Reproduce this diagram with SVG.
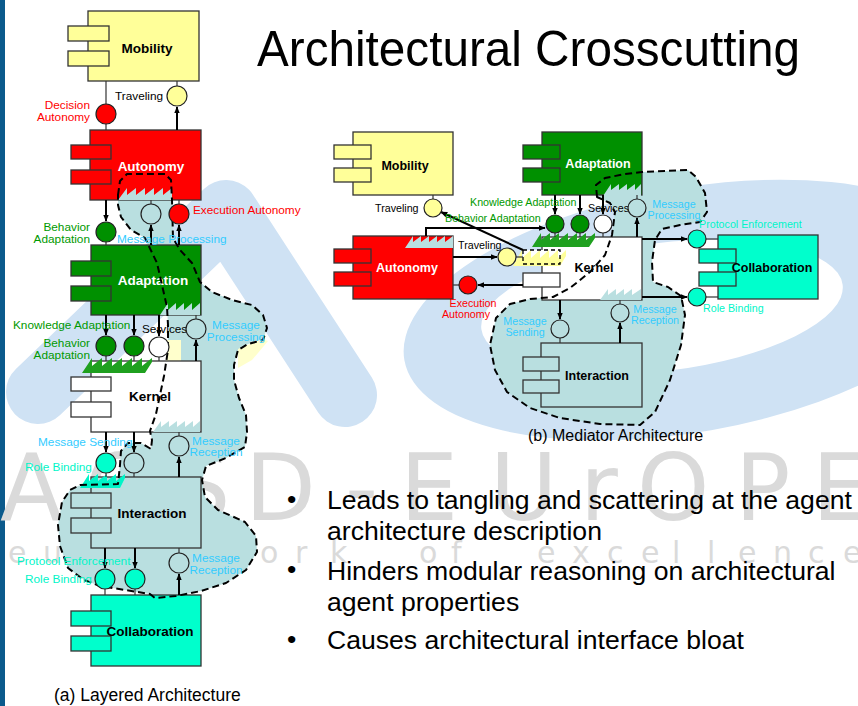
<svg xmlns="http://www.w3.org/2000/svg" width="858" height="706" viewBox="0 0 858 706">
<defs>
<style>
.bx{stroke:#333;stroke-width:1.3}
.yel{fill:#ffff99}.red{fill:#ff0000}.grn{fill:#009000}.wht{fill:#fff}.tea{fill:#b9dfe0}.cya{fill:#00ffcc}
.t{font-family:"Liberation Sans",Arial,Helvetica,sans-serif}
.s1{font-size:11.8px}.s2{font-size:10.7px}
.nm1{font-size:13.5px;font-weight:bold;text-anchor:middle}
.nm2{font-size:12.5px;font-weight:bold;text-anchor:middle}
.k{fill:#000}.w{fill:#fff}.cr{fill:#ff0000}.cg{fill:#009900}.cb{fill:#33ccff}.cc{fill:#00f5c8}
.mid{text-anchor:middle}.end{text-anchor:end}
.ln{stroke:#333;stroke-width:1.2;fill:none}
.ar{stroke:#000;stroke-width:2;fill:none;marker-end:url(#ah)}
.ifc{stroke:#222;stroke-width:1.2}
.cloud{fill:#b9dfe0}
.dash{fill:none;stroke:#000;stroke-width:2;stroke-dasharray:7 4;stroke-linejoin:round}
.wm{fill:#cfe2f4}
.wg{fill:#dadada;font-family:"DejaVu Sans","Liberation Sans",sans-serif}
.bul{font-size:26.6px;fill:#000}
</style>
<marker id="ah" viewBox="0 0 10 10" refX="9" refY="5" markerWidth="3.5" markerHeight="3.5" orient="auto">
<path d="M0,1 L10,5 L0,9 z" fill="#000"/>
</marker>
</defs>

<rect width="858" height="706" fill="#fff"/>
<!-- page edge bar -->
<rect x="0" y="0" width="5" height="706" fill="#0b5a8c"/>

<!-- background logo watermark -->
<g id="watermark">
<polyline points="38,392 226,212 345,395" fill="none" stroke="#cfe2f4" stroke-width="64" stroke-linecap="round" stroke-linejoin="round"/>
<ellipse class="wm" cx="690" cy="310" rx="290" ry="122" transform="rotate(-10 690 310)"/>
<ellipse cx="662" cy="307" rx="182" ry="64" fill="#fff" transform="rotate(-7 662 307)"/>
<text class="wg" font-size="92" x="0 85 172 245 345 400 490 580 637 735 812" y="520">AOSD-EUrOPE</text>
<text class="wg" font-size="30" x="8 43 80 120 155 190 225 260 295 330 375 419 451 495 537 572 607 641 672 707 738 773 808 843" y="563">eu network of excellence</text>
</g>

<!-- title -->
<text class="t" x="257" y="66" font-size="50" textLength="543" lengthAdjust="spacingAndGlyphs">Architectural Crosscutting</text>

<!-- ===== (a) layered architecture ===== -->
<g id="a-concern-fill">
<polygon class="cloud" points="118,195 120,181 127,174 165,174 171,180 172,200 173,238 180,250 192,263 200,282 212,292 232,300 252,305 263,315 267,328 263,340 248,344 238,350 234,365 234,380 239,398 246,415 247,432 245,447 226,458 206,466 202,480 205,497 218,510 245,522 256,536 257,552 246,570 226,583 201,591 176,596 155,598 150,594 125,590 100,586 84,580 68,568 60,546 58,525 62,502 70,490 80,485 118,484 120,465 121,451 128,443 141,443 151,449 152,440 150,431 156,414 160,395 164,376 168,350 168,325 167,307 157,263 145,238 131,230 121,217 118,205"/>
<polygon points="166,340 181,340 181,361 166,361" fill="#ffffcc"/>
<polygon points="238,349 262,339 268,341 252,360 238,368" fill="#ffffcc"/>
</g>

<g id="a-mobility">
<rect class="bx yel" x="88" y="11" width="111" height="70"/>
<rect class="bx yel" x="68" y="26" width="41" height="15"/>
<rect class="bx yel" x="68" y="51" width="41" height="15"/>
<text class="t nm1 k" x="147" y="53">Mobility</text>
</g>
<g id="a-autonomy">
<rect class="bx red" x="90" y="130" width="111" height="70"/>
<rect class="bx red" x="71" y="145" width="40" height="14"/>
<rect class="bx red" x="71" y="170" width="40" height="14"/>
<text class="t nm1 w" x="151" y="171">Autonomy</text>
</g>
<g id="a-adaptation">
<rect class="bx grn" x="91" y="245" width="110" height="70"/>
<rect class="bx grn" x="71" y="261" width="40" height="15"/>
<rect class="bx grn" x="71" y="286" width="40" height="15"/>
<text class="t nm1 w" x="153" y="285">Adaptation</text>
</g>
<g id="a-kernel">
<rect class="bx wht" x="91" y="361" width="110" height="71"/>
<rect class="bx wht" x="71" y="377" width="40" height="14"/>
<rect class="bx wht" x="71" y="402" width="40" height="15"/>
<text class="t nm1 k" x="150" y="401">Kernel</text>
</g>
<g id="a-interaction">
<rect class="bx tea" x="91" y="477" width="110" height="71"/>
<rect class="bx tea" x="71" y="493" width="40" height="15"/>
<rect class="bx tea" x="71" y="518" width="40" height="15"/>
<text class="t nm1 k" x="152" y="518">Interaction</text>
</g>
<g id="a-collaboration">
<rect class="bx cya" x="91" y="595" width="110" height="71"/>
<rect class="bx cya" x="71" y="611" width="40" height="15"/>
<rect class="bx cya" x="71" y="636" width="40" height="15"/>
<text class="t nm1 k" x="150" y="636">Collaboration</text>
</g>

<!-- crosscut hatching, layered view -->
<g id="a-hatches">
<path fill="#b9dfe0" d="M118,200 L127,188 L127,195 L136,188 L136,195 L145,188 L145,195 L154,188 L154,195 L163,188 L163,195 L172,188 L172,200 Z"/>
<path fill="#b9dfe0" d="M160,315 L168,303 L168,310 L176,303 L176,310 L184,303 L184,310 L192,303 L192,310 L200,303 L200,315 Z"/>
<path fill="#1fa01f" d="M82,373 L92,358 L92,366 L102,358 L102,366 L112,358 L112,366 L122,358 L122,366 L132,358 L132,366 L142,358 L142,366 L152,358 L152,362 L145,373 Z"/>
<path fill="#b9dfe0" d="M153,432 L161,421 L161,427 L169,421 L169,427 L177,421 L177,427 L185,421 L185,427 L193,421 L193,427 L200,421 L200,432 Z"/>
<path fill="#00f5c8" d="M80,488 L89,474 L89,481 L98,474 L98,481 L107,474 L107,481 L116,474 L116,481 L125,474 L125,478 L120,488 Z"/>
</g>

<g id="a-concern-outline">
<polygon class="dash" points="118,195 120,181 127,174 165,174 171,180 172,200 173,238 180,250 192,263 200,282 212,292 232,300 252,305 263,315 267,328 263,340 248,344 238,350 234,365 234,380 239,398 246,415 247,432 245,447 226,458 206,466 202,480 205,497 218,510 245,522 256,536 257,552 246,570 226,583 201,591 176,596 155,598 150,594 125,590 100,586 84,580 68,568 60,546 58,525 62,502 70,490 80,485 118,484 120,465 121,451 128,443 141,443 151,449 152,440 150,431 156,414 160,395 164,376 168,350 168,325 167,307 157,263 145,238 131,230 121,217 118,205"/>
</g>

<!-- ===== (b) mediator architecture ===== -->
<g id="b-concern-fill">
<polygon class="cloud" points="597,197 596,185 605,178 625,174 642,172 688,170 696,177 705,193 707,212 700,222 680,225 662,229 655,240 652,262 653,282 668,287 681,296 685,315 681,345 670,380 655,412 640,425 600,424 560,418 530,408 507,392 495,370 490,345 496,318 510,304 530,299 553,297 570,288 590,272 605,255 612,235 615,212 610,203"/>
</g>

<g id="b-mobility">
<rect class="bx yel" x="353" y="132" width="100" height="63"/>
<rect class="bx yel" x="334" y="145" width="37" height="14"/>
<rect class="bx yel" x="334" y="168" width="37" height="14"/>
<text class="t nm2 k" x="405" y="170">Mobility</text>
</g>
<g id="b-adaptation">
<rect class="bx grn" x="542" y="132" width="100" height="63"/>
<rect class="bx grn" x="523" y="145" width="37" height="14"/>
<rect class="bx grn" x="523" y="168" width="37" height="14"/>
<text class="t nm2 w" x="598" y="168">Adaptation</text>
</g>
<g id="b-autonomy">
<rect class="bx red" x="353" y="236" width="100" height="63"/>
<rect class="bx red" x="334" y="249" width="37" height="14"/>
<rect class="bx red" x="334" y="272" width="37" height="14"/>
<text class="t nm2 w" x="407" y="272">Autonomy</text>
</g>
<g id="b-kernel">
<rect class="bx wht" x="542" y="237" width="100" height="63" stroke="#555" stroke-width="2"/>
<rect x="523" y="250" width="37" height="14" fill="#fff"/>
<path fill="#ffff99" d="M513,266 L522,250 L522,258 L531,250 L531,258 L540,250 L540,258 L549,250 L549,258 L558,250 L558,258 L566,250 L566,256 L560,266 Z"/>
<rect x="523" y="250" width="37" height="14" fill="none" stroke="#000" stroke-width="1.3" stroke-dasharray="4 3"/>
<rect class="bx wht" x="523" y="273" width="37" height="14"/>
<text class="t nm2 k" x="594" y="272">Kernel</text>
</g>
<g id="b-collaboration">
<rect class="bx cya" x="718" y="235" width="100" height="64"/>
<rect class="bx cya" x="699" y="249" width="37" height="14"/>
<rect class="bx cya" x="699" y="272" width="37" height="14"/>
<text class="t nm2 k" x="772" y="272">Collaboration</text>
</g>
<g id="b-interaction">
<rect class="bx tea" x="541" y="343" width="101" height="64"/>
<rect class="bx tea" x="523" y="357" width="36" height="14"/>
<rect class="bx tea" x="523" y="380" width="36" height="13"/>
<text class="t nm2 k" x="597" y="380">Interaction</text>
</g>

<!-- crosscut hatching, mediator view -->
<g id="b-hatches">
<path fill="#b9dfe0" d="M405,248 L413,236 L413,242 L421,236 L421,242 L429,236 L429,242 L437,236 L437,242 L445,236 L445,242 L453,236 L453,248 Z"/>
<path fill="#1fa01f" d="M532,247 L541,233 L541,240 L550,233 L550,240 L559,233 L559,240 L568,233 L568,240 L577,233 L577,240 L586,233 L586,240 L595,233 L595,238 L589,247 Z"/>
<path fill="#b9dfe0" d="M603,196 L611,184 L611,190 L619,184 L619,190 L627,184 L627,190 L635,184 L635,190 L641,184 L641,196 Z"/>
<path fill="#b9dfe0" d="M600,300 L608,289 L608,295 L616,289 L616,295 L624,289 L624,295 L632,289 L632,295 L641,289 L641,300 Z"/>
</g>

<g id="b-concern-outline">
<polygon class="dash" points="597,197 596,185 605,178 625,174 642,172 688,170 696,177 705,193 707,212 700,222 680,225 662,229 655,240 652,262 653,282 668,287 681,296 685,315 681,345 670,380 655,412 640,425 600,424 560,418 530,408 507,392 495,370 490,345 496,318 510,304 530,299 553,297 570,288 590,272 605,255 612,235 615,212 610,203"/>
</g>

<!-- connectors -->
<g id="connectors">
<!-- layered -->
<line class="ln" x1="106" y1="81" x2="106" y2="104"/>
<line class="ln" x1="106" y1="124" x2="106" y2="130"/>
<line class="ln" x1="177" y1="81" x2="177" y2="86"/>
<line class="ar" x1="177" y1="130" x2="177" y2="107"/>
<line class="ar" x1="106" y1="200" x2="106" y2="221"/>
<line class="ln" x1="106" y1="242" x2="106" y2="245"/>
<line class="ln" x1="151" y1="200" x2="151" y2="204"/>
<line class="ln" x1="179" y1="200" x2="179" y2="204"/>
<line class="ar" x1="151" y1="245" x2="151" y2="225"/>
<line class="ar" x1="179" y1="245" x2="179" y2="225"/>
<line class="ar" x1="106" y1="315" x2="106" y2="335"/>
<line class="ar" x1="134" y1="315" x2="134" y2="335"/>
<line class="ar" x1="159" y1="315" x2="159" y2="336"/>
<line class="ln" x1="106" y1="356" x2="106" y2="361"/>
<line class="ln" x1="134" y1="356" x2="134" y2="361"/>
<line class="ln" x1="159" y1="357" x2="159" y2="361"/>
<line class="ln" x1="196" y1="315" x2="196" y2="319"/>
<line class="ar" x1="196" y1="361" x2="196" y2="340"/>
<line class="ar" x1="106" y1="432" x2="106" y2="452"/>
<line class="ar" x1="134" y1="432" x2="134" y2="452"/>
<line class="ln" x1="106" y1="473" x2="106" y2="477"/>
<line class="ln" x1="134" y1="473" x2="134" y2="477"/>
<line class="ln" x1="179" y1="432" x2="179" y2="436"/>
<line class="ar" x1="179" y1="477" x2="179" y2="457"/>
<line class="ar" x1="105" y1="548" x2="105" y2="568"/>
<line class="ar" x1="135" y1="548" x2="135" y2="568"/>
<line class="ln" x1="105" y1="589" x2="105" y2="595"/>
<line class="ln" x1="135" y1="589" x2="135" y2="595"/>
<line class="ln" x1="179" y1="548" x2="179" y2="553"/>
<line class="ar" x1="179" y1="595" x2="179" y2="574"/>
<!-- mediator -->
<line class="ln" x1="433" y1="195" x2="433" y2="199"/>
<line class="ar" x1="523" y1="250" x2="441" y2="212"/>
<polyline class="ar" points="426,236 426,228 545,228"/>
<line class="ar" x1="453" y1="257" x2="497" y2="257"/>
<line class="ln" x1="516" y1="257" x2="523" y2="257"/>
<line class="ar" x1="523" y1="285" x2="478" y2="285"/>
<line class="ln" x1="459" y1="285" x2="453" y2="285"/>
<line class="ar" x1="555" y1="195" x2="555" y2="214"/>
<line class="ar" x1="580" y1="195" x2="580" y2="214"/>
<line class="ar" x1="603" y1="195" x2="603" y2="214"/>
<line class="ln" x1="555" y1="233" x2="555" y2="237"/>
<line class="ln" x1="580" y1="233" x2="580" y2="237"/>
<line class="ln" x1="603" y1="233" x2="603" y2="237"/>
<line class="ln" x1="637" y1="195" x2="637" y2="199"/>
<line class="ar" x1="637" y1="237" x2="637" y2="218"/>
<line class="ar" x1="642" y1="239" x2="687" y2="239"/>
<line class="ln" x1="706" y1="239" x2="718" y2="239"/>
<line class="ar" x1="642" y1="297" x2="687" y2="297"/>
<line class="ln" x1="706" y1="297" x2="718" y2="297"/>
<line class="ar" x1="560" y1="300" x2="560" y2="319"/>
<line class="ln" x1="560" y1="338" x2="560" y2="343"/>
<line class="ln" x1="620" y1="300" x2="620" y2="304"/>
<line class="ar" x1="620" y1="343" x2="620" y2="323"/>
</g>

<!-- provided / required interfaces, layered -->
<g id="a-traveling"><circle class="ifc yel" cx="177" cy="96" r="10"/><text class="t s1 k" x="115" y="100">Traveling</text></g>
<g id="a-decision-autonomy"><circle class="ifc red" cx="106" cy="114" r="10"/><text class="t s1 cr end" x="90" y="109">Decision</text><text class="t s1 cr end" x="90" y="121">Autonomy</text></g>
<g id="a-message-processing-1"><circle class="ifc tea" cx="151" cy="214" r="10"/><text class="t s1 cb" x="117" y="243">Message Processing</text></g>
<g id="a-execution-autonomy"><circle class="ifc red" cx="179" cy="214" r="10"/><text class="t s1 cr" x="193" y="214">Execution Autonomy</text></g>
<g id="a-behavior-adaptation-1"><circle class="ifc grn" cx="106" cy="232" r="10"/><text class="t s1 cg end" x="90" y="231">Behavior</text><text class="t s1 cg end" x="90" y="243">Adaptation</text></g>
<g id="a-knowledge-adaptation"><circle class="ifc grn" cx="106" cy="346" r="10"/><text class="t s1 cg" x="13" y="329">Knowledge Adaptation</text></g>
<g id="a-behavior-adaptation-2"><circle class="ifc grn" cx="134" cy="346" r="10"/><text class="t s1 cg end" x="90" y="347">Behavior</text><text class="t s1 cg end" x="90" y="359">Adaptation</text></g>
<g id="a-services"><circle class="ifc wht" cx="159" cy="347" r="10"/><text class="t s1 k" x="142" y="333">Services</text></g>
<g id="a-message-processing-2"><circle class="ifc tea" cx="196" cy="329" r="10"/><text class="t s1 cb mid" x="236" y="329">Message</text><text class="t s1 cb mid" x="236" y="341">Processing</text></g>
<g id="a-role-binding-1"><circle class="ifc cya" cx="106" cy="463" r="10"/><text class="t s1 cc" x="25" y="471">Role Binding</text></g>
<g id="a-message-sending"><circle class="ifc tea" cx="134" cy="463" r="10"/><text class="t s1 cb" x="38" y="446">Message Sending</text></g>
<g id="a-message-reception-1"><circle class="ifc tea" cx="179" cy="446" r="10"/><text class="t s1 cb mid" x="216" y="445">Message</text><text class="t s1 cb mid" x="216" y="456">Reception</text></g>
<g id="a-protocol-enforcement"><circle class="ifc cya" cx="105" cy="579" r="10"/><text class="t s1 cc" x="17" y="565">Protocol Enforcement</text></g>
<g id="a-role-binding-2"><circle class="ifc cya" cx="135" cy="579" r="10"/><text class="t s1 cc" x="25" y="583">Role Binding</text></g>
<g id="a-message-reception-2"><circle class="ifc tea" cx="179" cy="563" r="10"/><text class="t s1 cb mid" x="216" y="562">Message</text><text class="t s1 cb mid" x="216" y="574">Reception</text></g>

<!-- provided / required interfaces, mediator -->
<g id="b-traveling-1"><circle class="ifc yel" cx="433" cy="208" r="9"/><text class="t s2 k" x="375" y="212">Traveling</text></g>
<g id="b-traveling-2"><circle class="ifc yel" cx="507" cy="257" r="9"/><text class="t s2 k" x="458" y="249">Traveling</text></g>
<g id="b-execution-autonomy"><circle class="ifc red" cx="468" cy="285" r="9"/><text class="t s2 cr mid" x="473" y="307">Execution</text><text class="t s2 cr mid" x="466" y="318">Autonomy</text></g>
<g id="b-knowledge-adaptation"><circle class="ifc grn" cx="555" cy="224" r="9"/><text class="t s2 cg" x="470" y="206">Knowledge Adaptation</text></g>
<g id="b-behavior-adaptation"><circle class="ifc grn" cx="580" cy="224" r="9"/><text class="t s2 cg" x="445" y="222">Behavior Adaptation</text></g>
<g id="b-services"><circle class="ifc wht" cx="603" cy="224" r="9"/><text class="t s2 k" x="588" y="212">Services</text></g>
<g id="b-message-processing"><circle class="ifc tea" cx="637" cy="208" r="9"/><text class="t s2 cb mid" x="674" y="208">Message</text><text class="t s2 cb mid" x="674" y="219">Processing</text></g>
<g id="b-protocol-enforcement"><circle class="ifc cya" cx="697" cy="239" r="9"/><text class="t s2 cc" x="699" y="228">Protocol Enforcement</text></g>
<g id="b-role-binding"><circle class="ifc cya" cx="697" cy="297" r="9"/><text class="t s2 cc" x="703" y="312">Role Binding</text></g>
<g id="b-message-sending"><circle class="ifc tea" cx="560" cy="329" r="9"/><text class="t s2 cb mid" x="525" y="325">Message</text><text class="t s2 cb mid" x="525" y="336">Sending</text></g>
<g id="b-message-reception"><circle class="ifc tea" cx="620" cy="313" r="9"/><text class="t s2 cb mid" x="655" y="313">Message</text><text class="t s2 cb mid" x="655" y="324">Reception</text></g>

<!-- captions -->
<text class="t" x="54" y="701" font-size="17.5">(a) Layered Architecture</text>
<text class="t" x="528" y="441" font-size="16">(b) Mediator Architecture</text>

<!-- bullet list -->
<g id="bullets" class="t bul">
<text x="287" y="508">•</text>
<text x="327" y="509">Leads to tangling and scattering at the agent</text>
<text x="327" y="540">architecture description</text>
<text x="287" y="578">•</text>
<text x="327" y="580">Hinders modular reasoning on architectural</text>
<text x="327" y="611">agent properties</text>
<text x="287" y="648">•</text>
<text x="327" y="649">Causes architectural interface bloat</text>
</g>
</svg>
